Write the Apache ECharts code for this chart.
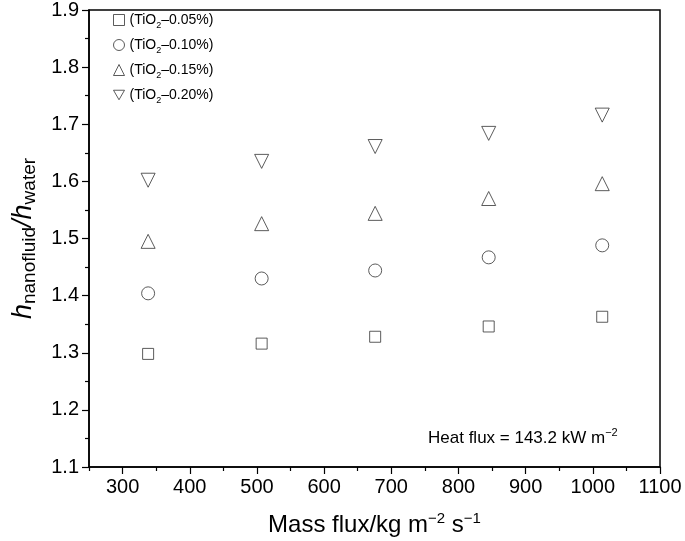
<!DOCTYPE html>
<html><head><meta charset="utf-8">
<script src="https://cdn.jsdelivr.net/npm/echarts@6/dist/echarts.min.js"></script>
<style>html,body{margin:0;padding:0;background:#fff}#c{width:685px;height:541px}</style>
</head><body><div id="c"></div>
<script>
var massFlux = [338, 507, 676, 845, 1014];
var tio2_005 = [1.298, 1.316, 1.328, 1.346, 1.363];
var tio2_010 = [1.404, 1.430, 1.444, 1.467, 1.488];
var tio2_015 = [1.495, 1.526, 1.544, 1.570, 1.596];
var tio2_020 = [1.602, 1.635, 1.661, 1.684, 1.716];
var seriesNames = ['(TiO2–0.05%)', '(TiO2–0.10%)', '(TiO2–0.15%)', '(TiO2–0.20%)'];
var xMajorTicks = [300, 400, 500, 600, 700, 800, 900, 1000, 1100];
var xMinorTicks = [250, 350, 450, 550, 650, 750, 850, 950, 1050];

var FONT = 'Liberation Sans, Arial, Helvetica, sans-serif';
var chart = echarts.init(document.getElementById('c'));
function pts(ys){ return massFlux.map(function(x,i){ return [x, ys[i]]; }); }
var markerStyle = { color: '#fff', borderColor: '#333', borderWidth: 1 };
var symbols = ['rect', 'circle', 'triangle', 'path://M0,0 L10,0 L5,8.66 Z'];
var sizes = [11, 13, 14, 14];
var allData = [tio2_005, tio2_010, tio2_015, tio2_020];

var series = allData.map(function(d, i){
  return { name: seriesNames[i], type: 'scatter', data: pts(d), symbol: symbols[i], symbolSize: sizes[i],
    itemStyle: markerStyle, emphasis: { disabled: true }, z: 5 };
});

var option = {
  animation: false,
  backgroundColor: '#fff',
  grid: { left: 89, top: 10, right: 25, bottom: 74, show: true, borderColor: '#000', borderWidth: 1.5,
    backgroundColor: 'transparent', containLabel: false, outerBoundsMode: 'none' },
  legend: {
    orient: 'vertical', left: 108, top: 8, itemGap: 8, itemWidth: 11, itemHeight: 11,
    itemStyle: { borderWidth: 1, borderColor: '#333', color: '#fff' },
    textStyle: { fontFamily: FONT, fontSize: 14, color: '#000',
      rich: { s: { fontSize: 9, padding: [11, 0, 0, 0], fontFamily: FONT, color: '#000' } } },
    formatter: function(n){ return n.replace('TiO2', 'TiO{s|2}'); },
    data: seriesNames
  },
  xAxis: [{
    type: 'value', min: 250, max: 1100, interval: 50,
    axisLine: { show: true, lineStyle: { color: '#000', width: 1.5 } },
    axisTick: { show: true, customValues: xMajorTicks, length: 7, inside: false, lineStyle: { color: '#000', width: 1.2 } },
    axisLabel: { customValues: xMajorTicks, fontFamily: FONT, fontSize: 20, color: '#000', margin: 10,
      formatter: function(v){ return String(v); } },
    splitLine: { show: false },
    name: '{t|Mass flux/kg m}{p|−2}{t| s}{p|−1}', nameLocation: 'middle', nameGap: 44,
    nameTextStyle: { fontFamily: FONT, color: '#000', rich: {
      t: { fontSize: 24, fontFamily: FONT, color: '#000' },
      p: { fontSize: 15, fontFamily: FONT, color: '#000', padding: [0, 0, 13, 0] } } }
  }, {
    type: 'value', min: 250, max: 1100, interval: 50, position: 'bottom',
    axisLine: { show: false },
    axisTick: { show: true, customValues: xMinorTicks, length: 4, lineStyle: { color: '#000', width: 1.2 } },
    axisLabel: { show: false }, splitLine: { show: false }
  }],
  yAxis: {
    type: 'value', min: 1.1, max: 1.9, interval: 0.1,
    axisLine: { show: true, lineStyle: { color: '#000', width: 1.5 } },
    axisTick: { show: true, length: 7, lineStyle: { color: '#000', width: 1.2 } },
    minorTick: { show: true, splitNumber: 2, length: 4, lineStyle: { color: '#000', width: 1.2 } },
    axisLabel: { fontFamily: FONT, fontSize: 20, color: '#000', margin: 10, formatter: function(v){ return v.toFixed(1); } },
    splitLine: { show: false },
    name: '{h|h}{s|nanofluid}{h|/}{h|h}{s|water}', nameLocation: 'middle', nameGap: 50, nameRotate: 90,
    nameTextStyle: { fontFamily: FONT, color: '#000', rich: {
      h: { fontSize: 27, fontStyle: 'italic', fontFamily: FONT, color: '#000' },
      s: { fontSize: 19, fontFamily: FONT, color: '#000', padding: [13, 0, 0, 0] } } }
  },
  graphic: [{
    type: 'text', left: 428, top: 427, z: 10,
    style: { text: '{t|Heat flux = 143.2 kW m}{p|−2}', fontFamily: FONT, fill: '#000', rich: {
      t: { fontSize: 17, fontFamily: FONT },
      p: { fontSize: 11, fontFamily: FONT, padding: [0, 0, 11, 0] } } }
  }],
  series: series
};
chart.setOption(option);
</script></body></html>
